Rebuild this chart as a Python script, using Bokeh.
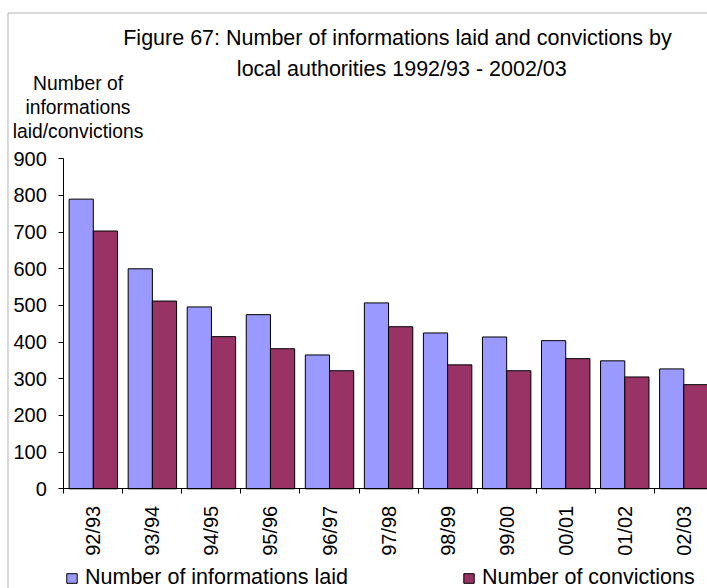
import math
from bokeh.plotting import figure
from bokeh.models import (Range1d, FixedTicker, LinearAxis, Legend, LegendItem,
                          Label, BoxAnnotation, ColumnDataSource)
from bokeh.transform import dodge
from bokeh.embed import file_html
from bokeh.resources import INLINE

# ---- data ----
periods = ["92/93", "93/94", "94/95", "95/96", "96/97", "97/98",
           "98/99", "99/00", "00/01", "01/02", "02/03"]
informations_laid = [790, 600, 496, 475, 365, 507, 425, 414, 404, 349, 327]
convictions = [703, 512, 415, 382, 322, 442, 338, 322, 355, 305, 284]
y_ticks = [0, 100, 200, 300, 400, 500, 600, 700, 800, 900]

title_lines = ["Figure 67: Number of informations laid and convictions by",
               "local authorities 1992/93 - 2002/03"]
ylabel_lines = ["Number of", "informations", "laid/convictions"]
legend_labels = ["Number of informations laid", "Number of convictions"]

FONT = "Liberation Sans"
INFO_COLOR = "#9999FF"
CONV_COLOR = "#993366"

n = len(periods)
centers = [i + 0.5 for i in range(n)]
src = ColumnDataSource(dict(center=centers, info=informations_laid, conv=convictions))

# frame covers the whole canvas; axes are pinned with fixed_location
p = figure(width=707, height=588, output_backend="svg", toolbar_location=None,
           title=None,
           x_range=Range1d(-1.072, 10.901), y_range=Range1d(-271.9, 1331.7),
           min_border=0, min_border_left=0, min_border_right=0,
           min_border_top=0, min_border_bottom=0,
           background_fill_color="white", border_fill_color="white")
p.outline_line_color = None
p.xgrid.visible = False
p.ygrid.visible = False

BW = 0.41
r1 = p.vbar(x=dodge("center", -BW / 2, range=p.x_range), top="info", width=BW,
            source=src, fill_color=INFO_COLOR, line_color="black", line_width=1)
r2 = p.vbar(x=dodge("center", BW / 2, range=p.x_range), top="conv", width=BW,
            source=src, fill_color=CONV_COLOR, line_color="black", line_width=1)

# y axis
ya = p.yaxis[0]
ya.fixed_location = 0
ya.bounds = (0, 900)
ya.ticker = FixedTicker(ticks=y_ticks)
ya.major_tick_out = 5
ya.major_tick_in = 0
ya.minor_tick_line_color = None
ya.axis_line_color = "black"
ya.major_tick_line_color = "black"
ya.major_label_text_font = FONT
ya.major_label_text_font_size = "20px"
ya.major_label_text_color = "black"
ya.major_label_standoff = 12

# x axis: boundary ticks only
xa = p.xaxis[0]
xa.fixed_location = 0
xa.bounds = (0, n)
xa.ticker = FixedTicker(ticks=list(range(n + 1)))
xa.major_label_overrides = {i: "" for i in range(n + 1)}
xa.major_label_text_font_size = "1px"
xa.major_label_standoff = 0
xa.major_tick_out = 5
xa.major_tick_in = 0
xa.minor_tick_line_color = None
xa.axis_line_color = "black"
xa.major_tick_line_color = "black"

# x axis: labels at category centres
xl = LinearAxis(ticker=FixedTicker(ticks=centers), fixed_location=0,
                major_label_overrides={c: lab for c, lab in zip(centers, periods)},
                major_label_orientation=math.pi / 2,
                axis_line_color=None, major_tick_line_color=None,
                minor_tick_line_color=None, major_tick_out=0, major_tick_in=0,
                major_label_text_font=FONT, major_label_text_font_size="20px",
                major_label_text_color="black", major_label_standoff=17)
p.add_layout(xl, "below")

# title lines
for txt, xx, yy in zip(title_lines, [5.651, 5.724], [1230.0, 1145.5]):
    p.add_layout(Label(x=xx, y=yy, text=txt, text_align="center",
                       text_baseline="alphabetic", text_font=FONT,
                       text_font_size="21.5px", text_color="black"))

# y label lines
for txt, yy in zip(ylabel_lines, [1104.5, 1040.7, 975.3]):
    p.add_layout(Label(x=0.2405, y=yy, text=txt, text_align="center",
                       text_baseline="alphabetic", text_font=FONT,
                       text_font_size="19.3px", text_color="black"))

# chart border
p.add_layout(BoxAnnotation(left=-0.945, right=30, top=1297.6, bottom=-2000,
                           fill_alpha=0, line_color="black", line_width=1))

# legends
for lab, rr, loc in zip(legend_labels, [r1, r2], [(65, -2), (462, -2)]):
    lg = Legend(items=[LegendItem(label=lab, renderers=[rr])], location=loc,
                orientation="horizontal", padding=0, margin=0,
                border_line_color=None, background_fill_alpha=0,
                glyph_width=13, glyph_height=12, label_standoff=7,
                label_text_font=FONT, label_text_font_size="21.5px",
                label_text_color="black")
    p.add_layout(lg)

open("out.html", "w").write(file_html(p, INLINE))
